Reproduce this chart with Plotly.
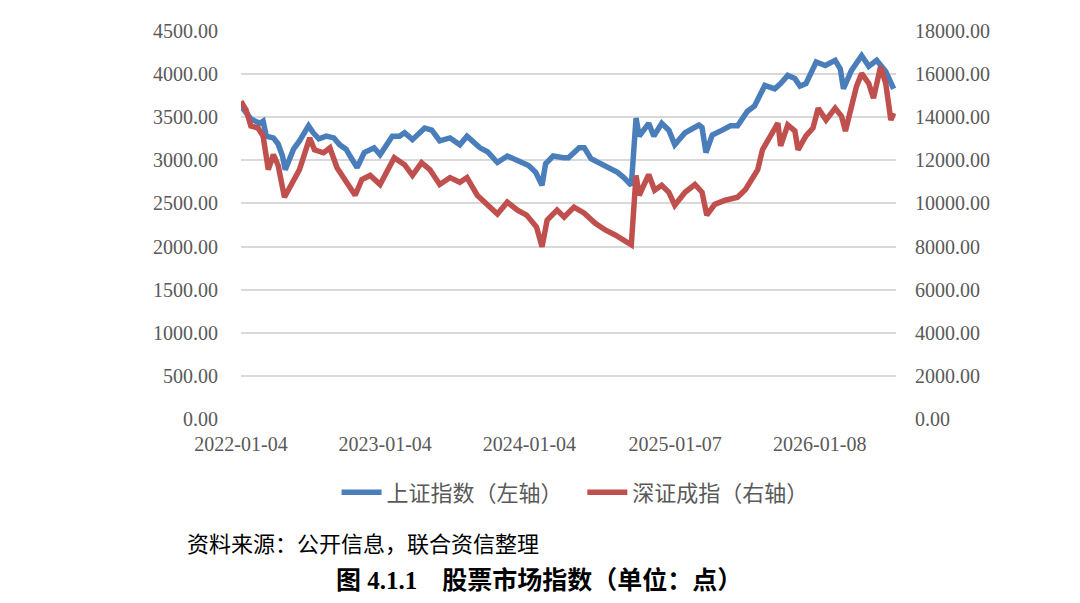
import plotly.graph_objects as go

# 上证指数 (left axis)
sse_dates = [
    "2022-01-04", "2022-01-29", "2022-02-20", "2022-03-01", "2022-03-09", "2022-03-27",
    "2022-04-08", "2022-04-19", "2022-04-26", "2022-05-17", "2022-06-01", "2022-06-24",
    "2022-07-06", "2022-07-20", "2022-08-08", "2022-08-27", "2022-09-11", "2022-09-27",
    "2022-10-07", "2022-10-25", "2022-11-12", "2022-12-07", "2022-12-22", "2023-01-22",
    "2023-02-09", "2023-02-22", "2023-03-14", "2023-04-14", "2023-05-02", "2023-05-22",
    "2023-06-17", "2023-07-12", "2023-07-30", "2023-09-01", "2023-09-20", "2023-10-15",
    "2023-11-09", "2023-12-05", "2024-01-02", "2024-01-20", "2024-02-05", "2024-02-14",
    "2024-03-04", "2024-03-30", "2024-04-12", "2024-05-09", "2024-05-22", "2024-06-08",
    "2024-07-04", "2024-07-29", "2024-08-14", "2024-08-30", "2024-09-13", "2024-09-18",
    "2024-09-30", "2024-10-08", "2024-11-01", "2024-11-14", "2024-12-04", "2024-12-22",
    "2025-01-06", "2025-02-01", "2025-03-08", "2025-03-16", "2025-03-26", "2025-04-11",
    "2025-05-06", "2025-05-27", "2025-06-14", "2025-07-09", "2025-07-27", "2025-08-11",
    "2025-08-22", "2025-09-16", "2025-10-01", "2025-10-19", "2025-11-06", "2025-11-19",
    "2025-12-04", "2025-12-30", "2026-01-22", "2026-02-16", "2026-03-01", "2026-03-09",
    "2026-03-29", "2026-04-24", "2026-05-12", "2026-06-01", "2026-06-24", "2026-07-14",
]
sse_values = [
    3632, 3480, 3430, 3455, 3280, 3260,
    3190, 3050, 2890, 3130, 3225, 3400,
    3320, 3250, 3280, 3260, 3180, 3130,
    3050, 2915, 3090, 3145, 3065, 3280,
    3280, 3320, 3240, 3375, 3350, 3225,
    3260, 3180, 3280, 3145, 3100, 2975,
    3050, 2995, 2940, 2860, 2710, 2960,
    3050, 3030, 3030, 3145, 3145, 3020,
    2960, 2905, 2860, 2800, 2730, 2710,
    3490, 3280, 3430, 3280, 3430, 3350,
    3180, 3320, 3410, 3380, 3090, 3295,
    3350, 3400, 3400, 3570, 3630, 3780,
    3870, 3830, 3890, 3985, 3950, 3860,
    3890, 4140, 4100, 4160, 4060, 3830,
    4040, 4215, 4090, 4160, 4030, 3830,
]

# 深证成指 (right axis)
szse_dates = [
    "2022-01-04", "2022-01-17", "2022-01-29", "2022-02-16", "2022-03-01", "2022-03-09",
    "2022-03-14", "2022-03-27", "2022-04-08", "2022-04-24", "2022-05-17", "2022-06-01",
    "2022-06-27", "2022-07-09", "2022-08-01", "2022-08-17", "2022-09-04", "2022-09-29",
    "2022-10-20", "2022-11-06", "2022-11-27", "2022-12-22", "2023-01-27", "2023-02-22",
    "2023-03-14", "2023-04-06", "2023-04-27", "2023-05-22", "2023-06-17", "2023-07-12",
    "2023-07-30", "2023-08-25", "2023-09-14", "2023-10-15", "2023-11-09", "2023-12-05",
    "2023-12-28", "2024-01-22", "2024-02-05", "2024-02-18", "2024-03-14", "2024-04-01",
    "2024-04-26", "2024-05-22", "2024-06-18", "2024-07-14", "2024-08-08", "2024-09-02",
    "2024-09-18", "2024-09-30", "2024-10-08", "2024-11-01", "2024-11-16", "2024-12-04",
    "2024-12-22", "2025-01-06", "2025-02-01", "2025-02-26", "2025-03-16", "2025-03-28",
    "2025-04-17", "2025-05-14", "2025-06-14", "2025-07-04", "2025-07-22", "2025-08-04",
    "2025-08-16", "2025-09-03", "2025-09-24", "2025-10-01", "2025-10-19", "2025-11-06",
    "2025-11-14", "2025-12-04", "2025-12-22", "2026-01-04", "2026-01-24", "2026-02-16",
    "2026-03-04", "2026-03-14", "2026-03-27", "2026-04-11", "2026-04-24", "2026-05-12",
    "2026-05-24", "2026-06-11", "2026-06-24", "2026-07-07", "2026-07-14",
]
szse_values = [
    14740, 14330, 13590, 13500, 13130, 12030,
    11570, 12260, 11760, 10290, 11110, 11570,
    13040, 12490, 12350, 12580, 11660, 10980,
    10380, 11110, 11300, 10880, 12120, 11800,
    11300, 11890, 11570, 10880, 11200, 10980,
    11200, 10380, 10060, 9510, 10060, 9690,
    9460, 8910, 7990, 9230, 9690, 9370,
    9830, 9550, 9090, 8770, 8540, 8220,
    8080, 11300, 10380, 11340, 10610, 10840,
    10520, 9920, 10520, 10880, 10520, 9460,
    9960, 10150, 10290, 10650, 11200, 11570,
    12490, 13040, 13730, 12670, 13640, 13360,
    12490, 13130, 13500, 14420, 13870, 14420,
    14050, 13360, 14330, 15430, 16030, 15570,
    14880, 16350, 15570, 13870, 14190,
]

tick_dates = ["2022-01-04", "2023-01-04", "2024-01-04", "2025-01-07", "2026-01-08"]

grey = "#595959"
serif = "Liberation Serif"
cjk = "Noto Sans CJK SC"

fig = go.Figure()
# trailing no-break spaces widen the gap between the two legend items
fig.add_trace(go.Scatter(x=sse_dates, y=sse_values, mode="lines",
                         name="上证指数（左轴）\u00a0\u00a0\u00a0",
                         line=dict(color="#4a7ebb", width=5.5)))
fig.add_trace(go.Scatter(x=szse_dates, y=szse_values, mode="lines", name="深证成指（右轴）",
                         yaxis="y2", line=dict(color="#c0504d", width=5.5)))

# the page body has an 8px margin, so the figure is made 8px smaller
fig.update_layout(
    width=1072, height=595,
    margin=dict(l=233, r=184, t=19, b=184),
    plot_bgcolor="white", paper_bgcolor="white",
    showlegend=True,
    legend=dict(orientation="h", x=0.51, xanchor="center", y=-0.135, yanchor="top",
                font=dict(family=cjk, size=22, color=grey), itemwidth=40),
    xaxis=dict(type="date", range=["2022-01-04", "2026-07-20"],
               tickvals=tick_dates, ticktext=tick_dates,
               showgrid=False, showline=False, ticks="", ticklabelstandoff=11,
               tickfont=dict(family=serif, size=20, color=grey)),
    yaxis=dict(range=[0, 4500], dtick=500, tickformat=".2f",
               gridcolor="#d9d9d9", gridwidth=1.5, zeroline=False,
               ticklabelstandoff=22,
               tickfont=dict(family=serif, size=20, color=grey)),
    yaxis2=dict(range=[0, 18000], dtick=2000, tickformat=".2f", overlaying="y",
                side="right", showgrid=False, zeroline=False,
                ticklabelstandoff=18,
                tickfont=dict(family=serif, size=20, color=grey)),
)

fig.add_annotation(text="资料来源：公开信息，联合资信整理", xref="paper", yref="paper",
                   x=-0.086, y=-0.316, xanchor="left", yanchor="middle", showarrow=False,
                   font=dict(family=cjk, size=22, color="#000000"))
fig.add_annotation(text="<b>图 4.1.1　股票市场指数（单位：点）</b>", xref="paper", yref="paper",
                   x=0.455, y=-0.416, xanchor="center", yanchor="middle", showarrow=False,
                   font=dict(family=serif + ", " + cjk, size=25, color="#000000"))

fig.write_html("out.html")
